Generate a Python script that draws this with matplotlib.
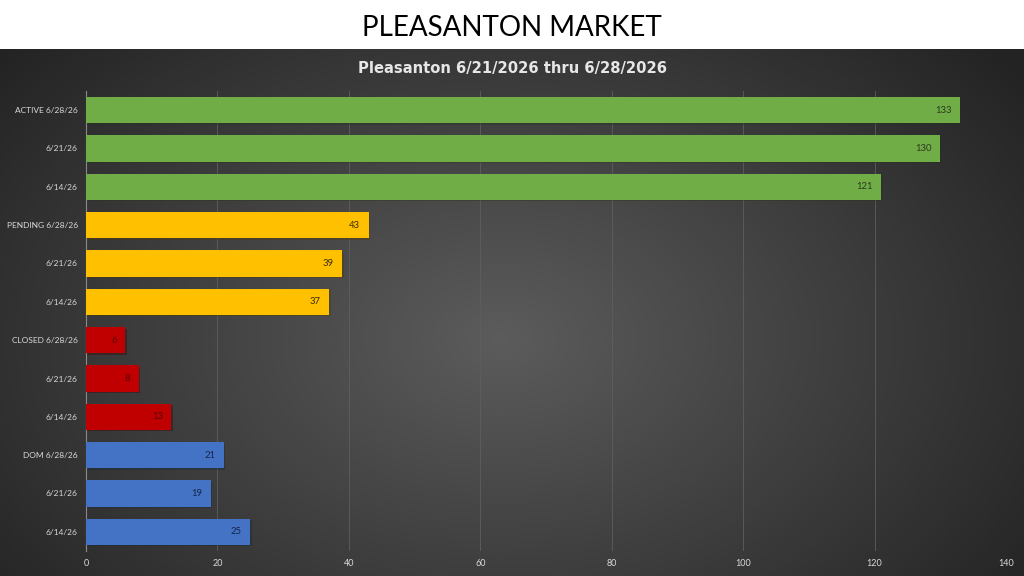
import numpy as np
import matplotlib.pyplot as plt
import matplotlib.patheffects as pe

plt.rcParams['font.family'] = ['Lato', 'DejaVu Sans']

# Data, top to bottom as shown
labels = ["ACTIVE 6/28/26", "6/21/26", "6/14/26",
          "PENDING 6/28/26", "6/21/26", "6/14/26",
          "CLOSED 6/28/26", "6/21/26", "6/14/26",
          "DOM 6/28/26", "6/21/26", "6/14/26"]
values = [133, 130, 121, 43, 39, 37, 6, 8, 13, 21, 19, 25]
group_colors = ["#70AD47", "#FFC000", "#C00000", "#4472C4"]
label_colors = ["#2b3a1f", "#3a2e00", "#5a0000", "#14264d"]
ticks = [0, 20, 40, 60, 80, 100, 120, 140]

W, H = 1024, 576
fig = plt.figure(figsize=(W / 100, H / 100), dpi=100)
fig.patch.set_facecolor("white")

# dark panel with radial gradient
panel_top = 49
bg = fig.add_axes([0, 0, 1, (H - panel_top) / H])
yy, xx = np.mgrid[0:H - panel_top, 0:W]
r = np.sqrt(((xx - 500) / 620.0) ** 2 + ((yy - 290) / 420.0) ** 2)
shade = np.clip(0.36 - 0.21 * r, 0.14, 0.36)
bg.imshow(np.dstack([shade] * 3), aspect="auto", extent=[0, 1, 0, 1])
bg.set_axis_off()

fig.text(0.5, 1 - 28 / H, "PLEASANTON MARKET", ha="center", va="center",
         fontsize=20, color="black")
fig.text(0.5, 1 - 69 / H, "Pleasanton 6/21/2026 thru 6/28/2026", ha="center",
         va="center", fontsize=10.6, fontweight="bold", color="#e6e6e6",
         family="DejaVu Sans")

ax = fig.add_axes([86 / W, 25 / H, 920 / W, 460 / H])
ax.set_facecolor("none")
n = len(values)
pos = np.arange(n)
colors = [group_colors[i // 3] for i in range(n)]
bars = ax.barh(pos, values, height=0.68, color=colors, zorder=3)
for b in bars:
    b.set_path_effects([pe.SimplePatchShadow(offset=(1, -1), alpha=0.35),
                        pe.Normal()])

for i, (b, v) in enumerate(zip(bars, values)):
    ax.annotate(str(v), (v, pos[i]), xytext=(-6, 0), textcoords="offset points",
                ha="right", va="center", fontsize=6.8,
                color=label_colors[i // 3], zorder=4)

ax.set_ylim(n - 0.5, -0.5)
ax.set_xlim(0, 140)
ax.set_yticks(pos)
ax.set_yticklabels(labels)
ax.set_xticks(ticks)
ax.tick_params(axis="both", length=0, labelsize=6.5, colors="#d9d9d9")
ax.tick_params(axis="y", pad=6, labelsize=6)
ax.tick_params(axis="x", pad=6)
ax.grid(axis="x", color="#5e5e5e", linewidth=0.6, zorder=0)
ax.set_axisbelow(True)
for s in ["top", "right", "bottom"]:
    ax.spines[s].set_visible(False)
ax.spines["left"].set_color("#8a8a8a")
ax.spines["left"].set_linewidth(0.8)

fig.savefig("out.png", dpi=100)
